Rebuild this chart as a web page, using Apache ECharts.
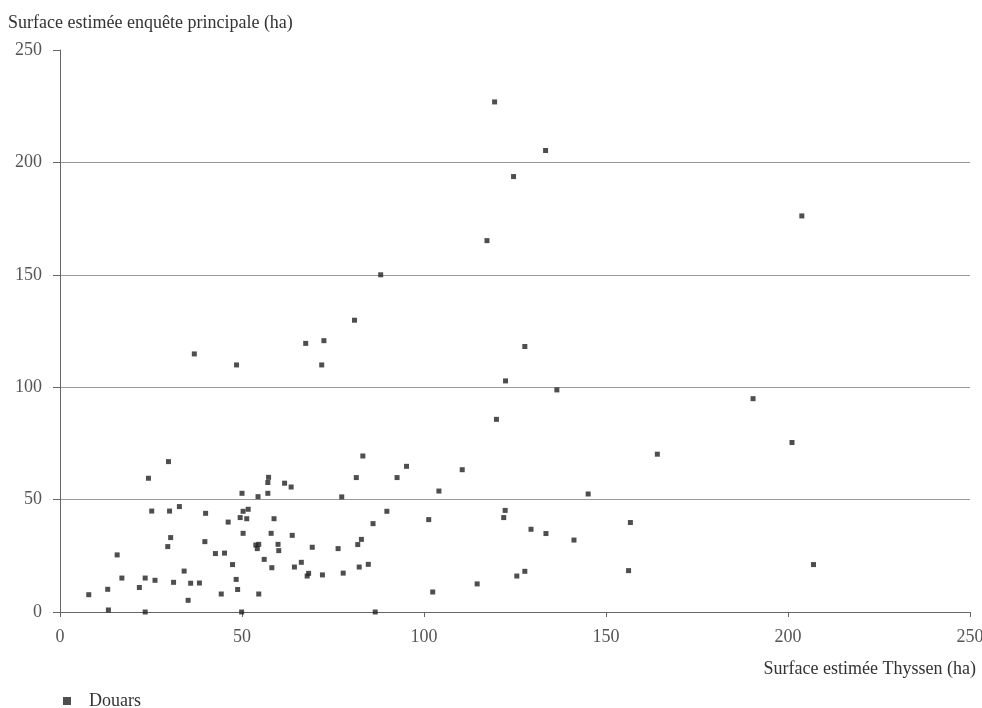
<!DOCTYPE html>
<html>
<head>
<meta charset="utf-8">
<script src="https://cdn.jsdelivr.net/npm/echarts@6/dist/echarts.min.js"></script>
<style>
html,body{margin:0;padding:0;background:#fff;}
#chart{width:982px;height:708px;}
</style>
</head>
<body>
<div id="chart"></div>
<script>
// Surface estimée Thyssen (ha)
const thyssen = [
  29.8, 24.3, 57.3, 57.1, 50.0, 57.1, 54.4, 25.2, 30.1, 32.8,
  40.0, 46.2, 50.3, 51.7, 49.5, 51.3, 58.8, 50.3, 58.0, 30.4,
  29.6, 39.8, 15.7, 42.7, 45.2, 53.8, 54.6, 54.2, 59.9, 60.1,
  56.1, 58.2, 47.4, 34.1, 17.0, 23.4, 26.1, 31.2, 35.9, 38.3,
  48.4, 21.8, 13.1, 7.9, 48.8, 44.3, 54.6, 35.2, 13.3, 23.4,
  49.9,
  83.2, 95.2, 110.5, 81.4, 92.6, 104.1, 61.7, 63.5, 77.4, 89.8,
  101.3, 86.0, 63.8, 69.3, 76.4, 82.8, 81.8, 64.4, 66.3, 68.3,
  67.9, 72.1, 77.8, 82.2, 84.7, 102.4, 114.6, 86.6,
  122.4, 136.5, 119.9, 164.1, 145.1, 122.3, 121.9, 129.4, 133.5, 141.2,
  156.7, 156.2, 127.7, 125.5,
  36.9, 48.5, 67.5, 72.5, 71.9, 80.9, 127.7,
  119.4, 133.4, 124.6, 117.3, 88.1,
  203.8, 190.4, 201.1, 207.0
];
// Surface estimée enquête principale (ha)
const enquete = [
  66.9, 59.5, 59.9, 57.6, 52.8, 52.8, 51.3, 44.9, 44.9, 46.9,
  43.9, 40.0, 44.8, 45.7, 42.0, 41.5, 41.5, 35.0, 35.0, 33.1,
  29.1, 31.3, 25.4, 26.0, 26.2, 29.8, 30.1, 28.2, 30.1, 27.3,
  23.4, 19.7, 21.1, 18.2, 15.1, 15.1, 14.1, 13.2, 12.8, 12.9,
  14.5, 10.9, 10.1, 7.7, 10.0, 8.0, 8.0, 5.2, 0.9, 0.0,
  0.0,
  69.4, 64.8, 63.3, 59.8, 59.8, 53.8, 57.3, 55.6, 51.2, 44.8,
  41.1, 39.3, 34.1, 28.8, 28.2, 32.3, 30.0, 20.0, 22.1, 17.2,
  16.0, 16.5, 17.3, 20.0, 21.2, 8.9, 12.5, 0.0,
  102.8, 98.8, 85.7, 70.2, 52.5, 45.2, 42.0, 36.8, 34.9, 32.0,
  39.8, 18.4, 18.1, 16.0,
  114.8, 109.9, 119.5, 120.7, 109.9, 129.8, 118.1,
  226.9, 205.3, 193.7, 165.2, 150.0,
  176.2, 94.9, 75.4, 21.1
];
const seriesName = 'Douars';
const xName = 'Surface estimée Thyssen (ha)';
const yName = 'Surface estimée enquête principale (ha)';

const points = thyssen.map((x, i) => [x, enquete[i]]);
const FONT = '"Liberation Serif", "Times New Roman", serif';

const chart = echarts.init(document.getElementById('chart'), null, {renderer: 'canvas'});
chart.setOption({
  animation: false,
  backgroundColor: '#ffffff',
  grid: {left: 60, right: 12, top: 50, bottom: 96, containLabel: false, outerBoundsMode: 'none'},
  legend: {
    show: true,
    data: [seriesName],
    left: 63, top: 692, padding: 0,
    icon: 'rect', itemWidth: 8, itemHeight: 8,
    textStyle: {fontFamily: FONT, fontSize: 18, color: '#333', padding: [0, 0, 0, 13]}
  },
  xAxis: {
    type: 'value', min: 0, max: 250, interval: 50,
    name: xName, nameLocation: 'end', nameGap: 6,
    nameTextStyle: {fontFamily: FONT, fontSize: 18, color: '#333', align: 'right', verticalAlign: 'top', padding: [48, 0, 0, 0]},
    axisLine: {show: true, lineStyle: {color: '#666', width: 1}},
    axisTick: {show: true, inside: false, length: 5, lineStyle: {color: '#666'}},
    axisLabel: {fontFamily: FONT, fontSize: 18, color: '#555', margin: 16},
    splitLine: {show: false}
  },
  yAxis: {
    type: 'value', min: 0, max: 250, interval: 50,
    name: yName, nameLocation: 'end', nameGap: 27,
    nameTextStyle: {fontFamily: FONT, fontSize: 18, color: '#333', align: 'left', verticalAlign: 'middle', padding: [0, 0, 0, -52]},
    axisLine: {show: true, lineStyle: {color: '#666', width: 1}},
    axisTick: {show: true, inside: false, length: 7, lineStyle: {color: '#666'}},
    axisLabel: {fontFamily: FONT, fontSize: 18, color: '#555', margin: 18},
    splitLine: {show: true, showMaxLine: false, lineStyle: {color: '#999', width: 1}}
  },
  series: [{
    name: seriesName,
    type: 'scatter',
    symbol: 'rect',
    symbolSize: 5,
    itemStyle: {color: '#222'},
    data: points
  }]
});
</script>
</body>
</html>
